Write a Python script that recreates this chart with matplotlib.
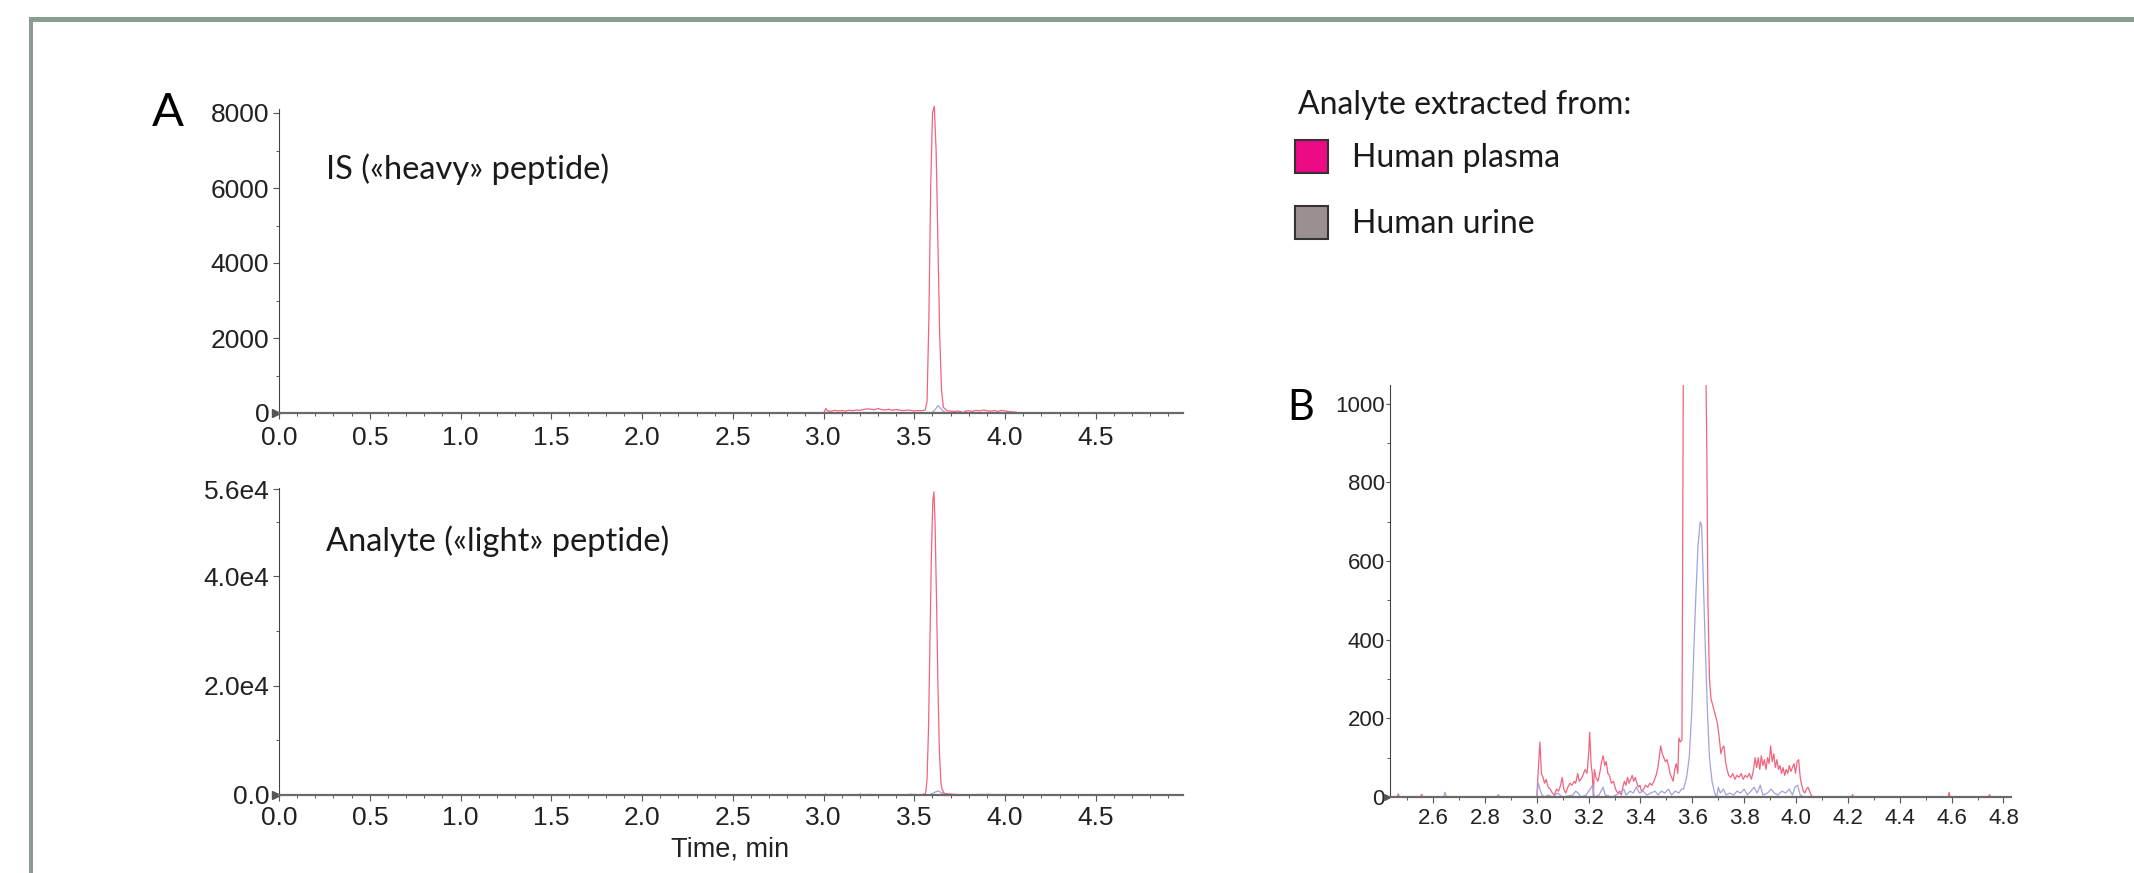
import matplotlib
matplotlib.use("Agg")
import matplotlib.pyplot as plt
import matplotlib.transforms as mtransforms
from matplotlib.patches import Rectangle
from matplotlib.ticker import MultipleLocator, FixedLocator

W, H = 2134, 873

# Panel A, top: IS ("heavy" peptide)
heavy_plasma_t = [3.000, 3.013, 3.020, 3.040, 3.060, 3.080, 3.100, 3.120, 3.140, 3.160,
                  3.180, 3.200, 3.220, 3.240, 3.260, 3.280, 3.300, 3.320, 3.340, 3.360,
                  3.380, 3.400, 3.420, 3.440, 3.460, 3.480, 3.500, 3.520, 3.540, 3.560,
                  3.570, 3.580, 3.590, 3.600, 3.610, 3.620, 3.630, 3.640, 3.650, 3.660,
                  3.680, 3.700, 3.720, 3.740, 3.760, 3.770, 3.780, 3.800, 3.820, 3.840,
                  3.860, 3.880, 3.900, 3.920, 3.940, 3.960, 3.980, 4.000, 4.020, 4.040,
                  4.060, 4.070]
heavy_plasma_y = [0, 120, 60, 45, 70, 55, 65, 50, 75, 60,
                  80, 70, 95, 110, 100, 85, 120, 90, 80, 100,
                  70, 95, 75, 60, 80, 70, 55, 65, 60, 80,
                  300, 2500, 6000, 8000, 8180, 7000, 4500, 2000, 600, 150,
                  60, 50, 40, 55, 30, 0, 50, 60, 45, 70,
                  55, 80, 60, 50, 65, 45, 70, 55, 40, 30,
                  20, 0]
heavy_urine_t = [3.590, 3.600, 3.615, 3.630, 3.645, 3.660, 3.675, 3.690]
heavy_urine_y = [0, 20, 90, 200, 120, 40, 10, 0]

# Analyte ("light" peptide) - shown full scale in panel A and zoomed in panel B
light_plasma_t = [2.432, 2.462, 2.466, 2.470, 2.552, 2.556, 2.560, 3.000,
                  3.012, 3.018, 3.024, 3.030, 3.036, 3.044, 3.052, 3.060, 3.068, 3.076,
                  3.084, 3.092, 3.098, 3.104, 3.112, 3.120, 3.128, 3.136, 3.144, 3.150,
                  3.158, 3.164, 3.170, 3.178, 3.186, 3.194, 3.200, 3.204, 3.210, 3.214,
                  3.218, 3.222, 3.228, 3.236, 3.244, 3.250, 3.256, 3.262, 3.268, 3.274,
                  3.280, 3.288, 3.296, 3.304, 3.312, 3.320, 3.326, 3.332, 3.338, 3.344,
                  3.350, 3.356, 3.362, 3.368, 3.374, 3.380, 3.386, 3.392, 3.398, 3.404,
                  3.412, 3.420, 3.428, 3.436, 3.444, 3.452, 3.460, 3.466, 3.472, 3.478,
                  3.484, 3.490, 3.496, 3.502, 3.508, 3.514, 3.520, 3.526, 3.532, 3.538,
                  3.544, 3.548, 3.554, 3.560, 3.565, 3.570, 3.578, 3.586, 3.594, 3.602,
                  3.608, 3.614, 3.622, 3.630, 3.638, 3.646, 3.652, 3.656, 3.660, 3.666,
                  3.672, 3.680, 3.688, 3.696, 3.704, 3.710, 3.716, 3.722, 3.728, 3.734,
                  3.740, 3.748, 3.756, 3.764, 3.772, 3.780, 3.788, 3.796, 3.804, 3.812,
                  3.820, 3.828, 3.836, 3.842, 3.848, 3.854, 3.860, 3.866, 3.872, 3.878,
                  3.884, 3.890, 3.896, 3.902, 3.908, 3.914, 3.920, 3.926, 3.932, 3.938,
                  3.944, 3.950, 3.956, 3.962, 3.968, 3.974, 3.980, 3.986, 3.992, 3.998,
                  4.004, 4.010, 4.016, 4.022, 4.028, 4.034, 4.040, 4.046, 4.052, 4.058,
                  4.064, 4.214, 4.218, 4.222, 4.586, 4.590, 4.594, 4.742, 4.746, 4.750,
                  4.829]
light_plasma_y = [0, 0, 8, 0, 0, 7, 0, 0,
                  140, 60, 50, 35, 45, 25, 20, 10, 5, 20,
                  15, 30, 50, 20, 10, 25, 35, 30, 40, 35,
                  60, 40, 45, 55, 70, 60, 110, 165, 80, 60,
                  0, 70, 50, 40, 65, 90, 105, 80, 90, 60,
                  55, 35, 40, 20, 10, 15, 5, 25, 40, 30,
                  50, 35, 45, 55, 40, 50, 35, 25, 30, 15,
                  20, 30, 25, 35, 30, 40, 55, 70, 100, 130,
                  110, 100, 90, 95, 80, 60, 50, 40, 70, 85,
                  60, 150, 140, 145, 1050, 3000, 12000, 28000, 44000, 54000,
                  55500, 50000, 36000, 20000, 8000, 2500, 1100, 870, 500, 300,
                  250, 230, 210, 190, 150, 110, 125, 130, 90, 70,
                  55, 50, 60, 45, 55, 50, 60, 45, 55, 50,
                  60, 45, 70, 100, 75, 100, 70, 105, 80, 95,
                  70, 100, 85, 130, 90, 110, 75, 95, 70, 80,
                  60, 75, 55, 70, 60, 80, 65, 75, 85, 60,
                  90, 95, 50, 30, 15, 10, 20, 25, 15, 5,
                  0, 0, 6, 0, 0, 12, 0, 0, 6, 0,
                  0]
light_urine_t = [2.432, 2.640, 2.646, 2.652, 2.846, 2.852, 2.858, 3.000, 3.006, 3.012,
                 3.020, 3.030, 3.044, 3.060, 3.080, 3.100, 3.140, 3.150, 3.160, 3.170,
                 3.190, 3.216, 3.222, 3.240, 3.256, 3.264, 3.290, 3.320, 3.336, 3.344,
                 3.360, 3.372, 3.384, 3.396, 3.410, 3.424, 3.440, 3.456, 3.468, 3.480,
                 3.494, 3.508, 3.520, 3.534, 3.548, 3.558, 3.566, 3.578, 3.588, 3.598,
                 3.606, 3.614, 3.622, 3.630, 3.636, 3.642, 3.650, 3.658, 3.666, 3.676,
                 3.686, 3.694, 3.700, 3.708, 3.720, 3.730, 3.744, 3.760, 3.772, 3.786,
                 3.800, 3.812, 3.826, 3.838, 3.850, 3.862, 3.872, 3.890, 3.904, 3.916,
                 3.930, 3.946, 3.960, 3.974, 3.986, 3.996, 4.006, 4.016, 4.030, 4.829]
light_urine_y = [0, 0, 12, 0, 0, 6, 0, 0, 35, 20,
                 5, 0, 5, 0, 10, 0, 5, 15, 10, 0,
                 5, 30, 0, 5, 25, 5, 0, 10, 20, 5,
                 15, 10, 25, 10, 15, 5, 10, 15, 5, 15,
                 10, 20, 5, 15, 10, 20, 20, 50, 100, 220,
                 380, 520, 640, 700, 690, 560, 380, 220, 100, 40,
                 10, 0, 25, 10, 20, 5, 10, 5, 15, 10,
                 20, 5, 15, 25, 10, 30, 5, 10, 20, 10,
                 5, 15, 10, 20, 5, 25, 30, 5, 0, 0]

a_xticks = [0.0, 0.5, 1.0, 1.5, 2.0, 2.5, 3.0, 3.5, 4.0, 4.5]
a_xlabels = ["0.0", "0.5", "1.0", "1.5", "2.0", "2.5", "3.0", "3.5", "4.0", "4.5"]
heavy_yticks = [0, 2000, 4000, 6000, 8000]
heavy_ylabels = ["0", "2000", "4000", "6000", "8000"]
light_yticks = [0, 20000, 40000, 56000]
light_ylabels = ["0.0", "2.0e4", "4.0e4", "5.6e4"]
b_xticks = [2.6, 2.8, 3.0, 3.2, 3.4, 3.6, 3.8, 4.0, 4.2, 4.4, 4.6, 4.8]
b_xlabels = ["2.6", "2.8", "3.0", "3.2", "3.4", "3.6", "3.8", "4.0", "4.2", "4.4", "4.6", "4.8"]
b_yticks = [0, 200, 400, 600, 800, 1000]
b_ylabels = ["0", "200", "400", "600", "800", "1000"]

legend_labels = ["Human plasma", "Human urine"]
legend_colors = ["#ec0a86", "#9c8f8f"]

RED = "#f2647e"
BLUE = "#a2a2dc"
TICKFONT = "Liberation Sans"
TEXTFONT = "Lato"


def fx(px):
    return px / W


def fy(py):
    return 1 - py / H


def axes_box(left, top, right, bottom):
    return [fx(left), fy(bottom), (right - left) / W, (bottom - top) / H]


def style_axes(ax, size, xw=1.6):
    ax.spines["top"].set_visible(False)
    ax.spines["right"].set_visible(False)
    ax.spines["left"].set_color("#444444")
    ax.spines["left"].set_linewidth(0.8)
    ax.spines["bottom"].set_color("#6a6a6a")
    ax.spines["bottom"].set_linewidth(xw)
    ax.tick_params(which="both", direction="out", colors="#555555",
                   labelcolor="#222222", labelsize=size)
    ax.tick_params(which="major", length=4, width=0.8)
    ax.tick_params(which="minor", length=2.5, width=0.7)
    for lab in ax.get_xticklabels() + ax.get_yticklabels():
        lab.set_fontfamily(TICKFONT)


def origin_mark(ax, fig, ms=6):
    tr = mtransforms.offset_copy(ax.transAxes, fig=fig, x=-3, y=0, units="dots")
    ax.plot([0], [0], marker=">", ms=ms, color="#555555", transform=tr, clip_on=False)


fig = plt.figure(figsize=(W / 100, H / 100), dpi=100)

# frame around the figure
fig.add_artist(Rectangle((fx(29), 0), 4 / W, fy(17), transform=fig.transFigure,
                         facecolor="#8a9c90", edgecolor="none"))
fig.add_artist(Rectangle((fx(29), fy(22)), 1, 5 / H, transform=fig.transFigure,
                         facecolor="#8a9c90", edgecolor="none"))

# A, top
ax1 = fig.add_axes(axes_box(279, 413 - 300 * 8110 / 8000, 1183, 413))
ax1.plot(heavy_plasma_t, heavy_plasma_y, color=RED, lw=0.9, clip_on=False)
ax1.plot(heavy_urine_t, heavy_urine_y, color=BLUE, lw=0.9)
ax1.set_xlim(0, 4.98)
ax1.set_ylim(0, 8110)
ax1.set_xticks(a_xticks, a_xlabels)
ax1.set_yticks(heavy_yticks, heavy_ylabels)
ax1.xaxis.set_minor_locator(MultipleLocator(0.1))
ax1.yaxis.set_minor_locator(MultipleLocator(1000))
style_axes(ax1, 19)
ax1.tick_params(axis="y", pad=3)
ax1.tick_params(axis="x", pad=5.5)
origin_mark(ax1, fig)

# A, bottom
ax2 = fig.add_axes(axes_box(279, 488, 1183, 795))
ax2.plot(light_plasma_t, light_plasma_y, color=RED, lw=0.9)
ax2.plot(light_urine_t, light_urine_y, color=BLUE, lw=0.9)
ax2.set_xlim(0, 4.98)
ax2.set_ylim(0, 56200)
ax2.set_xticks(a_xticks, a_xlabels)
ax2.set_yticks(light_yticks, light_ylabels)
ax2.xaxis.set_minor_locator(MultipleLocator(0.1))
ax2.yaxis.set_minor_locator(FixedLocator([10000, 30000, 50000]))
style_axes(ax2, 19)
ax2.tick_params(axis="y", pad=3)
ax2.tick_params(axis="x", pad=4)
origin_mark(ax2, fig)

# B, zoom on the baseline
ax3 = fig.add_axes(axes_box(1389.5, 385, 2011, 797))
ax3.plot(light_plasma_t, light_plasma_y, color=RED, lw=0.9)
ax3.plot(light_urine_t, light_urine_y, color=BLUE, lw=0.9)
ax3.set_xlim(2.432, 4.829)
ax3.set_ylim(0, 1048)
ax3.set_xticks(b_xticks, b_xlabels)
ax3.set_yticks(b_yticks, b_ylabels)
ax3.xaxis.set_minor_locator(MultipleLocator(0.1))
ax3.yaxis.set_minor_locator(MultipleLocator(100))
style_axes(ax3, 16)
ax3.tick_params(axis="x", pad=4)
ax3.tick_params(axis="y", pad=0.5, length=3)
origin_mark(ax3, fig, ms=4)

# panel letters and annotations
fig.text(fx(152), fy(126), "A", fontsize=34, family=TEXTFONT, va="baseline")
fig.text(fx(1287), fy(420), "B", fontsize=30, family=TEXTFONT, va="baseline")
fig.text(fx(326), fy(179), "IS («heavy» peptide)", fontsize=23.5, family=TEXTFONT,
         va="baseline", color="#1a1a1a")
fig.text(fx(326), fy(551), "Analyte («light» peptide)", fontsize=23.5, family=TEXTFONT,
         va="baseline", color="#1a1a1a")
fig.text(fx(730), fy(857), "Time, min", fontsize=19.5, family=TICKFONT, ha="center",
         va="baseline", color="#222222")

# legend
fig.text(fx(1298), fy(114), "Analyte extracted from:", fontsize=23, family=TEXTFONT,
         va="baseline", color="#1a1a1a")
for i, (lab, col) in enumerate(zip(legend_labels, legend_colors)):
    top = 140 + i * 66
    fig.add_artist(Rectangle((fx(1295), fy(top + 33)), 33 / W, 33 / H,
                             transform=fig.transFigure, facecolor=col,
                             edgecolor="#333333", lw=1.5))
    fig.text(fx(1352), fy(top + 27), lab, fontsize=23, family=TEXTFONT,
             va="baseline", color="#1a1a1a")

fig.savefig("out.png", dpi=100)
